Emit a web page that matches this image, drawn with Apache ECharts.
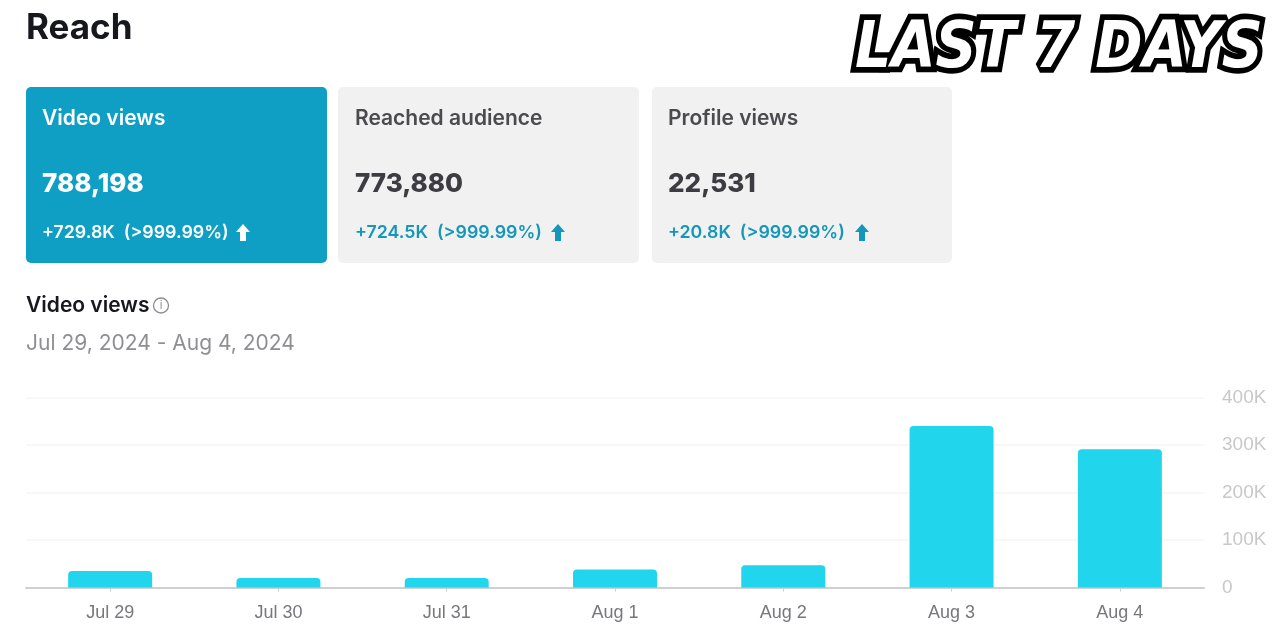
<!DOCTYPE html>
<html>
<head>
<meta charset="utf-8">
<style>
  html, body { margin: 0; padding: 0; background: #fff; }
  #chart { width: 1280px; height: 640px; }
</style>
<script src="https://cdn.jsdelivr.net/npm/echarts@6/dist/echarts.min.js"></script>
</head>
<body>
<div id="chart"></div>
<script>
// daily values
let days = ['Jul 29', 'Jul 30', 'Jul 31', 'Aug 1', 'Aug 2', 'Aug 3', 'Aug 4'];
let video_views = [35000, 20000, 20000, 38000, 47000, 340000, 291000];

// summary cards
let card_titles = ['Video views', 'Reached audience', 'Profile views'];
let card_totals = ['788,198', '773,880', '22,531'];
let card_deltas = ['+729.8K  (>999.99%)', '+724.5K  (>999.99%)', '+20.8K  (>999.99%)'];

const FONT = 'Inter, "Noto Sans", sans-serif';

function text_el(x, y, text, size, weight, color, font) {
    return {
        type: 'text',
        x: x,
        y: y,
        style: {
            text: text,
            fontFamily: font || FONT,
            fontSize: size,
            fontWeight: weight,
            fill: color,
            textVerticalAlign: 'middle'
        }
    };
}

function card_els(i, x, width, active) {
    let title_color = active ? '#fff' : '#4a4a4f';
    let total_color = active ? '#fff' : '#3c3c42';
    let delta_color = active ? '#fff' : '#1497b8';
    let arrow_x = [243, 558, 862][i];
    let text_x = x + (i == 1 ? 17 : 16);
    return [
        {
            type: 'rect',
            shape: { x: x, y: 87, width: width, height: 176, r: 5 },
            style: { fill: active ? '#0f9fc4' : '#f1f1f2' }
        },
        text_el(text_x, 119, card_titles[i], 21, 600, title_color),
        text_el(text_x, 184, card_totals[i], 26, 800, total_color),
        text_el(text_x, 233, card_deltas[i], 17.8, 600, delta_color),
        {
            type: 'polygon',
            shape: {
                points: [
                    [arrow_x, 224], [arrow_x + 7, 232], [arrow_x + 3, 232], [arrow_x + 3, 241],
                    [arrow_x - 3, 241], [arrow_x - 3, 232], [arrow_x - 7, 232]
                ]
            },
            style: { fill: delta_color }
        }
    ];
}

let badge_font = '"DejaVu Sans", sans-serif';
let graphic = [
    text_el(26, 28, 'Reach', 35, 700, '#16181d'),
    text_el(26, 306, 'Video views', 21, 600, '#16181d'),
    {
        type: 'circle',
        shape: { cx: 161, cy: 305.5, r: 7.5 },
        style: { fill: 'none', stroke: '#8d8d92', lineWidth: 1.3 }
    },
    {
        type: 'text',
        x: 161,
        y: 306,
        style: { text: 'i', fontFamily: FONT, fontSize: 11, fill: '#8d8d92', textAlign: 'center', textVerticalAlign: 'middle' }
    },
    text_el(26, 344, 'Jul 29, 2024 - Aug 4, 2024', 21, 400, '#8e8e93'),
    // outlined banner text, stroke layer under the fill layer
    {
        type: 'text',
        x: 855,
        y: 50,
        scaleX: 1.02,
        scaleY: 1.14,
        style: {
            text: 'LAST 7 DAYS', fontFamily: badge_font, fontSize: 56, fontWeight: 700, fontStyle: 'italic',
            fill: '#000', stroke: '#000', lineWidth: 10, lineJoin: 'round', textVerticalAlign: 'middle'
        }
    },
    {
        type: 'text',
        x: 855,
        y: 50,
        scaleX: 1.02,
        scaleY: 1.14,
        style: {
            text: 'LAST 7 DAYS', fontFamily: badge_font, fontSize: 56, fontWeight: 700, fontStyle: 'italic',
            fill: '#fff', textVerticalAlign: 'middle'
        }
    }
];
graphic = graphic
    .concat(card_els(0, 26, 301, true))
    .concat(card_els(1, 338, 301, false))
    .concat(card_els(2, 652, 300, false));

let chart = echarts.init(document.getElementById('chart'));
chart.setOption({
    animation: false,
    backgroundColor: '#fff',
    graphic: graphic,
    grid: { left: 26, right: 76, top: 397.5, bottom: 52.5 },
    xAxis: {
        type: 'category',
        data: days,
        axisLine: { lineStyle: { color: '#cfcfd2', width: 2 } },
        axisTick: { show: true, alignWithLabel: true, length: 4, lineStyle: { color: '#cfcfd2' } },
        axisLabel: { color: '#77777c', fontSize: 18, fontFamily: '"Liberation Sans", sans-serif', margin: 17 }
    },
    yAxis: {
        type: 'value',
        position: 'right',
        min: 0,
        max: 400000,
        interval: 100000,
        axisLine: { show: false },
        axisTick: { show: false },
        splitLine: { lineStyle: { color: '#f8f8f9', width: 2 } },
        axisLabel: {
            color: '#c8c8cb',
            fontSize: 19,
            fontFamily: '"Liberation Sans", sans-serif',
            margin: 18,
            align: 'left',
            formatter: function (v) { return v === 0 ? '0' : (v / 1000) + 'K'; }
        }
    },
    series: [
        {
            name: 'Video views',
            type: 'bar',
            data: video_views,
            barWidth: 84,
            itemStyle: { color: '#20d5ec', borderRadius: [4, 4, 0, 0] }
        }
    ]
});
</script>
</body>
</html>
